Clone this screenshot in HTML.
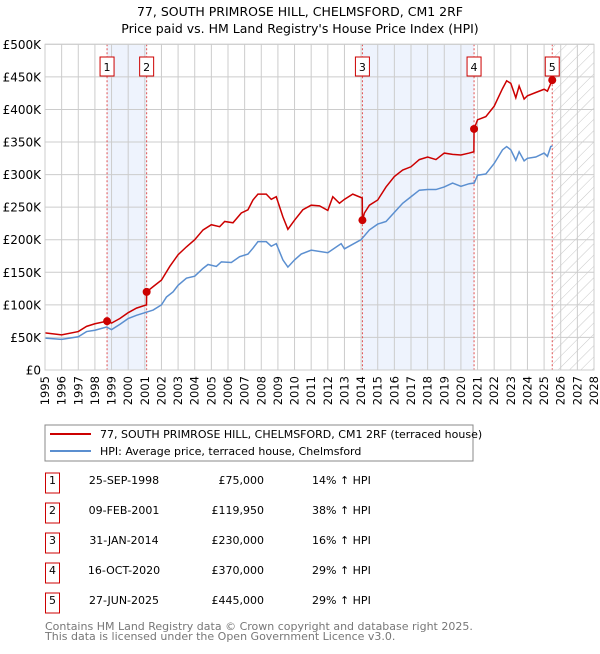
<!DOCTYPE html>
<html><head><meta charset="utf-8"><style>
body{margin:0;background:#fff;font-family:"DejaVu Sans","Liberation Sans",sans-serif;}
svg text{font-family:"DejaVu Sans","Liberation Sans",sans-serif;}
</style></head><body>
<svg id="chart" width="600" height="650" xmlns="http://www.w3.org/2000/svg">
<defs><pattern id="hatch" width="8" height="8" patternUnits="userSpaceOnUse" patternTransform="rotate(45)"><line x1="0" y1="0" x2="0" y2="8" stroke="#c8c8c8" stroke-width="1"/></pattern></defs>
<text x="300" y="16" text-anchor="middle" font-size="12.5">77, SOUTH PRIMROSE HILL, CHELMSFORD, CM1 2RF</text>
<text x="300" y="33" text-anchor="middle" font-size="12.5">Price paid vs. HM Land Registry's House Price Index (HPI)</text>
<g id="plot"></g>
<rect x="45" y="425" width="428" height="36" fill="#fff" stroke="#888"/>
<line x1="50" y1="434" x2="91" y2="434" stroke="#cc0000" stroke-width="2"/>
<text x="100" y="438" font-size="11">77, SOUTH PRIMROSE HILL, CHELMSFORD, CM1 2RF (terraced house)</text>
<line x1="50" y1="451" x2="91" y2="451" stroke="#5b8fd0" stroke-width="2"/>
<text x="100" y="455" font-size="11">HPI: Average price, terraced house, Chelmsford</text>
<g id="table"></g>
<text x="45" y="630" font-size="11" fill="#777">Contains HM Land Registry data © Crown copyright and database right 2025.</text>
<text x="45" y="640" font-size="11" fill="#777">This data is licensed under the Open Government Licence v3.0.</text>
</svg>
<script>
const hpiYears=[1995,1996,1997,1997.5,1998,1998.7,1999,1999.5,2000,2000.5,2001,2001.5,2002,2002.3,2002.7,2003,2003.5,2004,2004.5,2004.8,2005.3,2005.6,2006.2,2006.7,2007.2,2007.5,2007.8,2008.3,2008.6,2008.9,2009.3,2009.6,2010,2010.4,2011,2012,2012.8,2013,2014,2014.5,2015,2015.5,2016,2016.5,2017,2017.5,2018,2018.5,2019,2019.5,2020,2020.5,2020.8,2021,2021.5,2022,2022.5,2022.75,2023,2023.3,2023.5,2023.8,2024,2024.5,2025,2025.2,2025.4,2025.5];
const hpiValues=[49,47,51,59,61,66,62,70,79,84,88,92,100,112,120,130,141,144,156,162,159,166,165,174,178,187,197,197,190,194,169,158,169,178,184,180,194,186,200,215,224,228,242,256,266,276,277,277,281,287,282,286,287,299,301,317,338,343,338,322,335,321,325,327,333,328,343,344];
const priceYears=[1995,1996,1997,1997.5,1998,1998.73,1999,1999.5,2000,2000.5,2001.1,2001.11,2001.5,2002,2002.5,2003,2003.5,2004,2004.5,2005,2005.5,2005.8,2006.3,2006.8,2007.2,2007.5,2007.8,2008.3,2008.6,2008.9,2009.3,2009.6,2010,2010.5,2011,2011.5,2012,2012.3,2012.7,2013,2013.5,2014.07,2014.08,2014.2,2014.5,2015,2015.5,2016,2016.5,2017,2017.5,2018,2018.5,2019,2019.5,2020,2020.5,2020.78,2020.79,2021,2021.5,2022,2022.5,2022.75,2023,2023.3,2023.5,2023.8,2024,2024.5,2025,2025.2,2025.49];
const priceValues=[57,54,59,67,71,75,72,79,88,95,100,120,128,138,159,177,189,200,215,223,220,228,226,241,246,261,270,270,262,266,235,216,230,246,253,252,245,266,256,262,270,264,230,241,253,261,281,297,307,312,323,327,323,333,331,330,333,335,370,384,389,405,432,444,440,418,436,416,421,426,431,428,445];
const saleYears=[1998.73,2001.11,2014.08,2020.79,2025.49];
const saleValues=[75,119.95,230,370,445];
const saleLabels=["1","2","3","4","5"];
const saleDates=["25-SEP-1998","09-FEB-2001","31-JAN-2014","16-OCT-2020","27-JUN-2025"];
const salePrices=["£75,000","£119,950","£230,000","£370,000","£445,000"];
const saleHpi=["14% ↑ HPI","38% ↑ HPI","16% ↑ HPI","29% ↑ HPI","29% ↑ HPI"];
const yTicks=[0,50,100,150,200,250,300,350,400,450,500];
const yTickLabels=["£0","£50K","£100K","£150K","£200K","£250K","£300K","£350K","£400K","£450K","£500K"];
const xTicks=[];for(let y=1995;y<=2028;y++)xTicks.push(y);

const NS="http://www.w3.org/2000/svg";
const X0=45,X1=594,Y0=370,Y1=44.3;
const xs=v=>X0+(v-1995)/(2028-1995)*(X1-X0);
const ys=v=>Y0-v/500*(Y0-Y1);
function mk(tag,attrs,parent){const e=document.createElementNS(NS,tag);for(const k in attrs)e.setAttribute(k,attrs[k]);parent.appendChild(e);return e;}
const g=document.getElementById('plot');
let e;
e=mk('rect',{x:xs(saleYears[0]),y:Y1,width:xs(saleYears[1])-xs(saleYears[0]),height:Y0-Y1,fill:'#eef3fd'},g);


e=mk('rect',{x:xs(saleYears[2]),y:Y1,width:xs(saleYears[3])-xs(saleYears[2]),height:Y0-Y1,fill:'#eef3fd'},g);


e=mk('rect',{x:xs(saleYears[4]),y:Y1,width:X1-xs(saleYears[4]),height:Y0-Y1,fill:'url(#hatch)'},g);


xTicks.forEach(t=>{
 e=mk('line',{x1:xs(t),x2:xs(t),y1:Y1,y2:Y0,stroke:'#ccc','stroke-width':1},g);
 
 
 e=mk('text',{x:0,y:0,'font-size':11.5,'text-anchor':'end',transform:`translate(${xs(t)+4},${Y0+6}) rotate(-90)`},g);
 e.textContent=t;
 
 
});
yTicks.forEach((t,i)=>{
 e=mk('line',{x1:X0,x2:X1,y1:ys(t),y2:ys(t),stroke:'#ccc','stroke-width':1},g);
 
 
 e=mk('text',{x:X0-4,y:ys(t)+4.5,'font-size':12,'text-anchor':'end'},g);
 e.textContent=yTickLabels[i];
 
 
});
saleYears.forEach((s,i)=>{
 e=mk('line',{x1:xs(s),x2:xs(s),y1:Y1,y2:Y0,stroke:'#e05050','stroke-width':1,'stroke-dasharray':'2,2'},g);
 
 
});
e=mk('polyline',{points:hpiYears.map((y,i)=>xs(y)+','+ys(hpiValues[i])).join(' '),fill:'none',stroke:'#5b8fd0','stroke-width':1.5},g);


e=mk('polyline',{points:priceYears.map((y,i)=>xs(y)+','+ys(priceValues[i])).join(' '),fill:'none',stroke:'#cc0000','stroke-width':1.5},g);


saleYears.forEach((s,i)=>{
 e=mk('circle',{cx:xs(s),cy:ys(saleValues[i]),r:4,fill:'#cc0000'},g);
 
 
 e=mk('rect',{x:xs(s)-7,y:57,width:14,height:19,fill:'#fff',stroke:'#cc0000'},g);
 
 
 e=mk('text',{x:xs(s),y:71,'font-size':11,'text-anchor':'middle'},g);
 e.textContent=saleLabels[i];
 
 
});
e=mk('rect',{x:X0,y:Y1,width:X1-X0,height:Y0-Y1,fill:'none',stroke:'#ccc'},g);


const tb=document.getElementById('table');
saleLabels.forEach((l,i)=>{
 const cy=483+i*30;
 e=mk('rect',{x:45.5,y:cy-10,width:14,height:20,fill:'#fff',stroke:'#cc0000'},tb);
 
 
 e=mk('text',{x:52.5,y:cy+1,'font-size':11,'text-anchor':'middle'},tb);
 e.textContent=l;
 
 
 e=mk('text',{x:124,y:cy+1,'font-size':11,'text-anchor':'middle'},tb);
 e.textContent=saleDates[i];
 
 
 e=mk('text',{x:264,y:cy+1,'font-size':11,'text-anchor':'end'},tb);
 e.textContent=salePrices[i];
 
 
 e=mk('text',{x:312,y:cy+1,'font-size':11},tb);
 e.textContent=saleHpi[i];
 
 
});
</script>
</body></html>
